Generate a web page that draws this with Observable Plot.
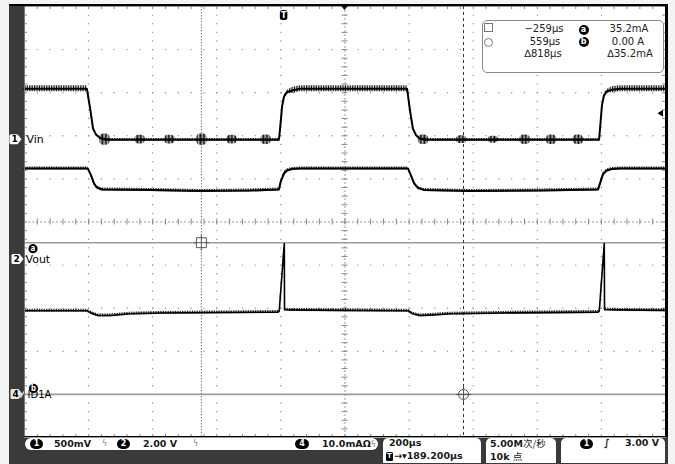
<!DOCTYPE html>
<html><head><meta charset="utf-8">
<script src="https://cdn.jsdelivr.net/npm/d3@7"></script>
<script src="https://cdn.jsdelivr.net/npm/@observablehq/plot@0.6"></script>
<style>
body{margin:0;background:#f4f4f4;}
#scope{position:relative;width:675px;height:464px;overflow:hidden;font-family:"DejaVu Sans",sans-serif;background:#f4f4f4;}
.bezel{position:absolute;left:9px;top:4px;width:659px;height:460px;background:#3a3a3a;border-top:2px solid #000;box-sizing:border-box;}
#chart{position:absolute;left:0;top:0;}
.rb{position:absolute;left:665px;top:4px;width:3px;height:433px;background:#000;}
.bb{position:absolute;left:24px;top:435.5px;width:644px;height:1.5px;background:#000;}
.lb{position:absolute;left:23.5px;top:6px;width:1px;height:430px;background:#777;}
.readout{position:absolute;left:482px;top:20px;width:180px;height:51px;border:1.3px solid #8a8a8a;border-radius:5px;background:#fff;}
.t{position:absolute;white-space:nowrap;color:#222;font-size:10px;line-height:12px;}
.c{transform:translateX(-50%);}
.badge{position:absolute;background:#000;color:#fff;border-radius:50%;font-weight:bold;font-size:8px;line-height:9px;text-align:center;}
.box{position:absolute;background:#fff;}
.sb{position:absolute;white-space:nowrap;color:#1a1a1a;font-size:9.5px;font-weight:bold;line-height:12px;}
.bw{position:absolute;color:#777;font-size:8px;line-height:12px;}
.cjk{font-family:"Noto Sans CJK SC",sans-serif;font-weight:normal;}
</style></head>
<body>
<div id="scope">
  <div class="bezel"></div>
  <div id="chart"></div>
  <div class="lb"></div>
  <div class="rb"></div>
  <div class="bb"></div>

  <div class="readout"></div>
  <div style="position:absolute;left:484px;top:23px;width:7px;height:7px;border:1px solid #777;"></div>
  <div style="position:absolute;left:484px;top:37.5px;width:7px;height:7px;border:1px solid #777;border-radius:50%;"></div>
  <div class="t c" id="r1" style="left:544px;top:23px;"></div>
  <div class="t c" id="r2" style="left:545px;top:35.5px;"></div>
  <div class="t c" id="r3" style="left:543px;top:47.5px;"></div>
  <div class="badge" style="left:578.5px;top:24.5px;width:10px;height:10px;line-height:10px;">a</div>
  <div class="badge" style="left:578.5px;top:37px;width:10px;height:10px;line-height:10px;">b</div>
  <div class="t c" id="r4" style="left:629px;top:23px;"></div>
  <div class="t c" id="r5" style="left:628px;top:35.5px;"></div>
  <div class="t c" id="r6" style="left:630px;top:47.5px;"></div>

  <div class="box" style="left:25px;top:437.5px;width:353px;height:12.5px;border-radius:6px;"></div>
  <div class="badge" style="left:30px;top:439px;width:13px;height:9.5px;line-height:9.5px;border-radius:5px;" id="b1"></div>
  <div class="sb" id="s1" style="left:54px;top:437.5px;"></div>
  <div class="bw" style="left:102px;top:437.5px;">ϟ</div>
  <div class="badge" style="left:117px;top:439px;width:13px;height:9.5px;line-height:9.5px;border-radius:5px;" id="b2"></div>
  <div class="sb" id="s2" style="left:143px;top:437.5px;"></div>
  <div class="bw" style="left:193px;top:437.5px;">ϟ</div>
  <div class="badge" style="left:295px;top:439px;width:14px;height:9.5px;line-height:9.5px;border-radius:5px;" id="b4"></div>
  <div class="sb" id="s4" style="left:322px;top:437.5px;"></div>

  <div class="box" style="left:383px;top:437.5px;width:98px;height:25px;border-radius:5px 5px 0 0;"></div>
  <div class="sb" id="s5" style="left:389px;top:437px;"></div>
  <div class="badge" style="left:386px;top:451.5px;width:7px;height:9px;line-height:9px;border-radius:1.5px;font-size:7px;">T</div>
  <div class="sb" id="s6" style="left:394px;top:450px;"></div>

  <div class="box" style="left:486px;top:437.5px;width:70px;height:25px;border-radius:5px 5px 0 0;"></div>
  <div class="sb" id="s7" style="left:490px;top:437px;"></div>
  <div class="sb" id="s8" style="left:490px;top:450px;"></div>

  <div class="box" style="left:561px;top:437.5px;width:104px;height:25px;border-radius:5px 5px 0 0;"></div>
  <div class="badge" style="left:580px;top:439px;width:13px;height:9.5px;line-height:9.5px;border-radius:5px;" id="b5"></div>
  <div class="sb" style="left:604px;top:437px;font-style:italic;">∫</div>
  <div class="sb" id="s9" style="left:625px;top:437px;"></div>
</div>
<script>
// ---------- data (time in µs relative to trigger) ----------
// Channel 1: Vin, volts (500 mV/div)
const vinT = [-811, -616, -606, -597, -588, -575, -556, -17, -14, -7, -1, 8, 24, 49, 383, 392, 401, 411, 423, 442, 982, 985, 991, 997, 1006, 1022, 1047, 1189];
const vinV = [0.59, 0.59, 0.36, 0.13, 0.06, 0.02, 0.0, 0.0, 0.10, 0.39, 0.50, 0.55, 0.57, 0.59, 0.59, 0.34, 0.13, 0.05, 0.01, 0.0, 0.0, 0.13, 0.40, 0.51, 0.56, 0.58, 0.59, 0.59];
const vinNoise = [0.035, 0.035, 0.01, 0.01, 0.01, 0.014, 0.014, 0.014, 0.01, 0.01, 0.01, 0.02, 0.035, 0.035, 0.035, 0.01, 0.01, 0.01, 0.014, 0.014, 0.014, 0.01, 0.01, 0.01, 0.02, 0.035, 0.035, 0.035];
// Ringing bursts on the Vin low level
const burstT = [-560, -450, -357, -257, -163, -57, 434, 553, 652, 751, 834, 917];
const burstA = [0.065, 0.05, 0.05, 0.065, 0.05, 0.055, 0.055, 0.045, 0.04, 0.055, 0.055, 0.055];
// Channel 2: Vout, volts (2.00 V/div)
const voutT = [-811, -613, -603, -594, -585, -569, -419, -263, -107, -17, -11, -1, 8, 24, 49, 386, 395, 405, 417, 436, 579, 798, 979, 985, 994, 1006, 1022, 1047, 1189];
const voutV = [4.22, 4.22, 3.90, 3.53, 3.34, 3.25, 3.23, 3.18, 3.20, 3.25, 3.62, 3.99, 4.13, 4.20, 4.22, 4.22, 3.90, 3.53, 3.32, 3.23, 3.18, 3.20, 3.25, 3.53, 3.95, 4.13, 4.20, 4.22, 4.22];
const voutNoise = 0.07;
// Channel 4: ID1A, mA (10.0 mA/div)
const idT = [-811, -616, -600, -581, -544, -482, -388, -201, -20, -16, -0.2, 0.5, 18, 174, 376, 386, 401, 423, 454, 517, 673, 979, 982.6, 998.2, 999, 1047, 1189];
const idV = [19.4, 19.4, 18.8, 18.3, 18.3, 18.7, 18.9, 19.0, 19.1, 19.3, 35.0, 19.7, 19.6, 19.5, 19.4, 19.4, 18.7, 18.3, 18.4, 18.7, 18.9, 19.1, 19.3, 35.0, 19.7, 19.6, 19.5];
const idNoise = 0.35;
// cursors
const cursorTimes = [-259, 559];          // µs
const cursorLevels = [35.2, 0.0];        // mA on channel 4
const triggerLevelVin = 0.30;            // V, marker on right edge
// readouts
const readLeft = ["−259µs", "559µs", "∆818µs"];
const readRight = ["35.2mA", "0.00 A", "∆35.2mA"];
const statusText = ["500mV", "2.00 V", "10.0mAΩ", "200µs", "→▾189.200µs", "5.00M次/秒", "10k 点", "3.00 V"];
const chanNames = ["Vin", "Vout", "ID1A"];

// ---------- screen geometry (divisions) ----------
const X0 = -810.8, TDIV = 200, NX = 10, CENTER_T = X0 + TDIV * 5;
const ch1 = {zero: 1.91, perDiv: 0.5};
const ch2 = {zero: -0.87, perDiv: 2.0};
const ch4 = {zero: -4.0, perDiv: 10};

const mk = (T, V, N, ch) => T.map((t, i) => {
  const n = Array.isArray(N) ? N[i] : N;
  const y = ch.zero + V[i] / ch.perDiv;
  return {t, y, y1: y - n / ch.perDiv, y2: y + n / ch.perDiv};
});
const vin = mk(vinT, vinV, vinNoise, ch1);
const vout = mk(voutT, voutV, voutNoise, ch2);
const id = mk(idT, idV, idNoise, ch4);
const bursts = burstT.map((t, i) => ({x1: t - 16, x2: t + 16, y1: ch1.zero - burstA[i] / ch1.perDiv, y2: ch1.zero + burstA[i] / ch1.perDiv}));
const curY = cursorLevels.map(v => ch4.zero + v / ch4.perDiv);

const xMajor = d3.range(0, NX + 1).map(i => X0 + TDIV * i);
const xMinor = d3.range(0, NX * 5 + 1).map(i => X0 + TDIV / 5 * i);
const yMajor = d3.range(-5, 6);
const yMinor = d3.range(0, 51).map(i => -5 + 0.2 * i);
const gridDots = [];
xMajor.slice(1, -1).filter(x => x !== CENTER_T).forEach(x => yMinor.forEach(y => gridDots.push({x, y})));
yMajor.slice(1, -1).filter(y => y !== 0).forEach(y => xMinor.forEach(x => gridDots.push({x, y})));
const tk = 0.07, tkx = 9.4;

const plot = Plot.plot({
  width: 675, height: 464,
  marginLeft: 24, marginRight: 10, marginTop: 6, marginBottom: 27,
  x: {domain: [X0, X0 + TDIV * NX], axis: null},
  y: {domain: [-5, 5], axis: null},
  style: {background: "transparent", overflow: "visible"},
  marks: [
    Plot.frame({fill: "white", stroke: "none"}),
    Plot.dot(gridDots, {x: "x", y: "y", r: 0.7, fill: "#8c8c8c", stroke: null}),
    Plot.ruleX([CENTER_T], {stroke: "#9a9a9a", strokeDasharray: "2,2"}),
    Plot.ruleY([0], {stroke: "#9a9a9a", strokeDasharray: "2,2"}),
    Plot.ruleX(xMinor, {y1: -tk, y2: tk, stroke: "#888"}),
    Plot.ruleY(yMinor, {x1: CENTER_T - tkx, x2: CENTER_T + tkx, stroke: "#888"}),
    Plot.ruleX(xMinor, {y1: 5, y2: 5 - tk, stroke: "#888"}),
    Plot.ruleX(xMinor, {y1: -5, y2: -5 + tk, stroke: "#888"}),
    Plot.ruleY(yMinor, {x1: X0, x2: X0 + tkx, stroke: "#888"}),
    Plot.ruleY(yMinor, {x1: X0 + TDIV * NX, x2: X0 + TDIV * NX - tkx, stroke: "#888"}),
    Plot.ruleY(curY, {stroke: "#9c9c9c", strokeWidth: 1.6}),
    Plot.ruleX([cursorTimes[0]], {stroke: "#7a7a7a", strokeDasharray: "1.5,1.5"}),
    Plot.ruleX([cursorTimes[1]], {stroke: "#333", strokeDasharray: "3,3"}),
    Plot.areaY(vin, {x: "t", y1: "y1", y2: "y2", fill: "url(#fuzz)", curve: "linear"}),
    Plot.areaY(vout, {x: "t", y1: "y1", y2: "y2", fill: "url(#fuzz)"}),
    Plot.areaY(id, {x: "t", y1: "y1", y2: "y2", fill: "url(#fuzz)"}),
    Plot.rect(bursts, {x1: "x1", x2: "x2", y1: "y1", y2: "y2", fill: "url(#fuzz2)", rx: 4}),
    Plot.line(vin, {x: "t", y: "y", stroke: "#000", strokeWidth: 2}),
    Plot.line(vout, {x: "t", y: "y", stroke: "#000", strokeWidth: 2}),
    Plot.line(id, {x: "t", y: "y", stroke: "#000", strokeWidth: 1.6}),
    Plot.dot([{x: cursorTimes[0], y: curY[0]}], {x: "x", y: "y", symbol: "square", r: 5.6, stroke: "#555", fill: "white", strokeWidth: 1}),
    Plot.dot([{x: cursorTimes[0], y: curY[0]}], {x: "x", y: "y", symbol: "plus", r: 5, stroke: "#555", strokeWidth: 1}),
    Plot.dot([{x: cursorTimes[1], y: curY[1]}], {x: "x", y: "y", symbol: "circle", r: 5, stroke: "#555", fill: "none", strokeWidth: 1}),
    Plot.dot([{x: cursorTimes[1], y: curY[1]}], {x: "x", y: "y", symbol: "plus", r: 5, stroke: "#555", strokeWidth: 1}),
    Plot.text([{x: X0, y: ch1.zero, s: chanNames[0]}], {x: "x", y: "y", text: "s", dx: 2, dy: 0, textAnchor: "start", fontSize: 11, fill: "#000", fontFamily: "DejaVu Sans"}),
    Plot.text([{x: X0, y: ch2.zero, s: chanNames[1]}], {x: "x", y: "y", text: "s", dx: 1, dy: 0, textAnchor: "start", fontSize: 11, fill: "#000", fontFamily: "DejaVu Sans"}),
    Plot.text([{x: X0, y: ch4.zero, s: chanNames[2]}], {x: "x", y: "y", text: "s", dx: 3, dy: 0, textAnchor: "start", fontSize: 10, fill: "#000", fontFamily: "DejaVu Sans"}),
    Plot.dot([{x: X0, y: curY[0]}], {x: "x", y: "y", dx: 8.5, dy: 6, r: 4.6, fill: "#000"}),
    Plot.text([{x: X0, y: curY[0]}], {x: "x", y: "y", dx: 8.5, dy: 6, text: () => "a", fill: "#fff", fontSize: 8, fontWeight: "bold"}),
    Plot.dot([{x: X0, y: curY[1]}], {x: "x", y: "y", dx: 9, dy: -6, r: 4.6, fill: "#000"}),
    Plot.text([{x: X0, y: curY[1]}], {x: "x", y: "y", dx: 9, dy: -6, text: () => "b", fill: "#fff", fontSize: 8, fontWeight: "bold"})
  ]
});
document.getElementById("chart").appendChild(plot);

// patterns for trace fuzz
const svg = d3.select(plot);
svg.insert("defs", ":first-child").html(
  '<pattern id="fuzz" width="1.7" height="4" patternUnits="userSpaceOnUse"><rect width="0.9" height="4" fill="#111"/></pattern>' +
  '<pattern id="fuzz2" width="1.4" height="4" patternUnits="userSpaceOnUse"><rect width="0.9" height="4" fill="#111"/></pattern>'
);
const sx = plot.scale("x"), sy = plot.scale("y");
// channel markers in the left band
function chanMarker(yPix, label, x0, fill) {
  const g = svg.append("g").attr("transform", `translate(${x0},${yPix})`);
  g.append("path").attr("d", "M1.5,-5 H8 L12,0 L8,5 H1.5 Q0,5 0,3.5 V-3.5 Q0,-5 1.5,-5 Z").attr("fill", fill);
  g.append("text").attr("x", 5.2).attr("y", 3.3).attr("text-anchor", "middle").attr("font-size", 9).attr("font-weight", "bold").attr("font-family", "DejaVu Sans").attr("fill", "#000").text(label);
  return g;
}
chanMarker(sy.apply(ch1.zero), "1", 9.5, "#fff");
chanMarker(sy.apply(ch2.zero), "2", 11.5, "#fff");
const g4 = chanMarker(sy.apply(ch4.zero), "4", 10.5, "#e6e6e6");
g4.append("path").attr("d", "M10,4 L14,-3").attr("stroke", "#ddd").attr("stroke-width", 1.2);
// trigger position marker (T) and center marker at top
const tx = sx.apply(0);
svg.append("rect").attr("x", tx - 4).attr("y", 10).attr("width", 7.5).attr("height", 10).attr("rx", 2.5).attr("fill", "#000");
svg.append("text").attr("x", tx - 0.2).attr("y", 18).attr("text-anchor", "middle").attr("font-size", 8).attr("font-weight", "bold").attr("font-family", "DejaVu Sans").attr("fill", "#fff").text("T");
const cx = sx.apply(CENTER_T);
svg.append("path").attr("d", `M${cx - 4},5 H${cx + 4} L${cx},10 Z`).attr("fill", "#000");
// trigger level marker at right edge
const ty = sy.apply(ch1.zero + triggerLevelVin / ch1.perDiv);
svg.append("path").attr("d", `M657.5,${ty} L663,${ty - 3.5} L663,${ty + 3.5} Z`).attr("fill", "#000");

// readouts & status bar text
["r1","r2","r3"].forEach((k, i) => document.getElementById(k).textContent = readLeft[i]);
["r4","r5","r6"].forEach((k, i) => document.getElementById(k).textContent = readRight[i]);
document.getElementById("b1").textContent = "1";
document.getElementById("b2").textContent = "2";
document.getElementById("b4").textContent = "4";
document.getElementById("b5").textContent = "1";
document.getElementById("s1").textContent = statusText[0];
document.getElementById("s2").textContent = statusText[1];
document.getElementById("s4").innerHTML = statusText[2] + '<span style="color:#777;font-weight:normal;font-size:8px">ϟ</span>';
document.getElementById("s5").textContent = statusText[3];
document.getElementById("s6").textContent = statusText[4];
document.getElementById("s7").innerHTML = statusText[5].replace("次/秒", '<span class="cjk">次/秒</span>');
document.getElementById("s8").innerHTML = statusText[6].replace("点", '<span class="cjk">点</span>');
document.getElementById("s9").textContent = statusText[7];
</script>
</body></html>
